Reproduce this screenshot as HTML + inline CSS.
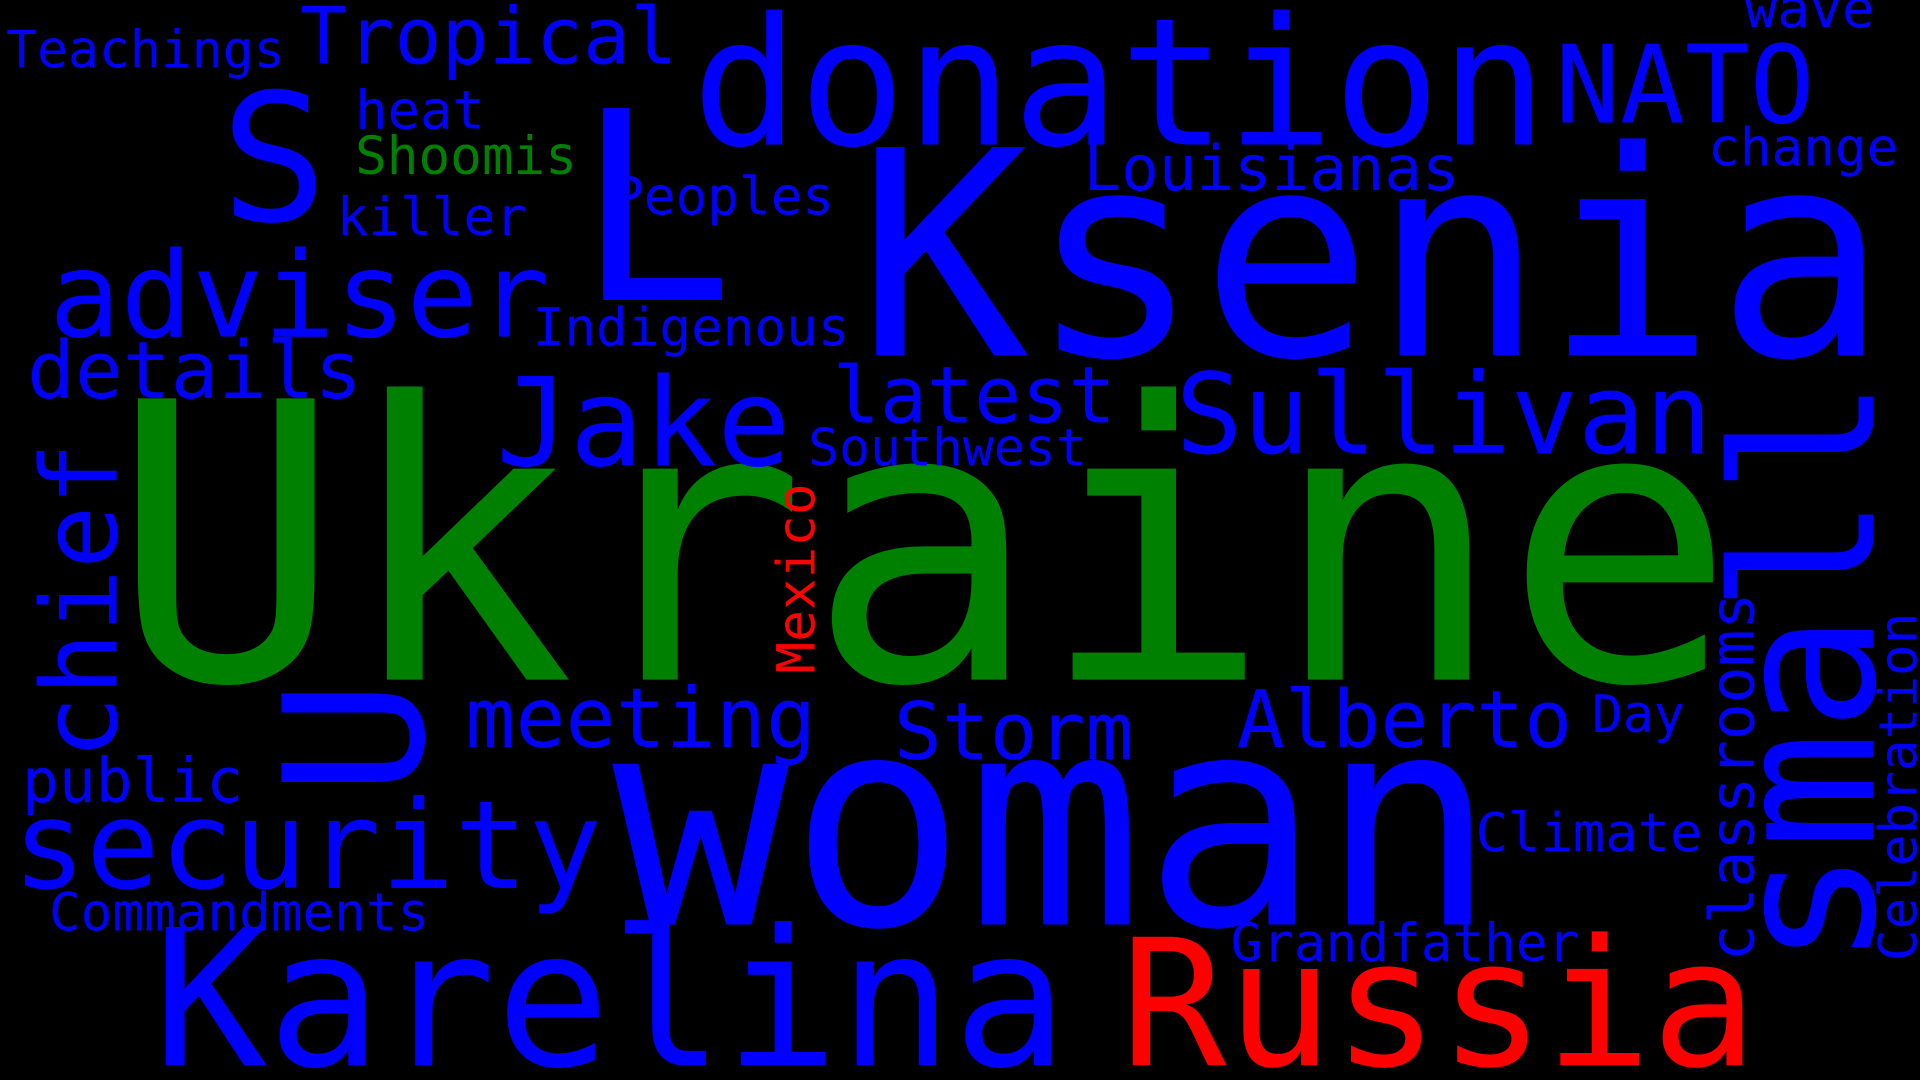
<!DOCTYPE html>
<html><head><meta charset="utf-8"><style>
html,body{margin:0;padding:0;background:#000;overflow:hidden}
svg{display:block}
text{font-family:"DejaVu Sans Mono","Liberation Mono",monospace}
</style></head><body>
<svg id="cloud" width="1920" height="1080" viewBox="0 0 1568 882" xmlns="http://www.w3.org/2000/svg">
<rect width="1568" height="882" fill="#000"/>
</svg>
<script>
const words = ["Ukraine","Ksenia","woman","donation","L","S","NATO","Tropical","Teachings","wave","heat","Shoomis","killer","Peoples","Louisianas","change","adviser","Indigenous","details","Jake","latest","Sullivan","Southwest","small","chief","Mexico","classrooms","Celebration","U","meeting","Storm","Alberto","Day","public","security","Climate","Commandments","Grandfather","Karelina","Russia"];
const sizes = [315,233,240,145,215,145,88,64,42,44,44,43,43,43,51,43,97,43,65,100,64,91,42,160,86,43,50,43,158,68,65,65,42,50,100,44,43,43,155,144];
const colors = ["green","blue","blue","blue","blue","blue","blue","blue","blue","blue","blue","green","blue","blue","blue","blue","blue","blue","blue","blue","blue","blue","blue","blue","blue","red","blue","blue","blue","blue","blue","blue","blue","blue","blue","blue","blue","blue","blue","red"];
const xs = [90,700,500,565,470,180,1270,245,5,1425,290,290,275,500,885,1395,40,435,22,405,680,960,660,1530,95,665,1432,1565,345,380,730,1010,1300,18,10,1205,40,1005,125,915];
const ys = [555,290,755,118,245,180,100,52,55,22,105,142,192,175,155,135,275,282,325,380,345,370,380,790,620,550,785,785,650,610,620,610,598,655,725,695,760,785,870,870];
const rot = [0,0,0,0,0,0,0,0,0,0,0,0,0,0,0,0,0,0,0,0,0,0,0,1,1,1,1,1,1,0,0,0,0,0,0,0,0,0,0,0];
const cmap = {green:"#008000",blue:"#0000ff",red:"#ff0000"};
const svg = document.getElementById('cloud');
words.forEach((w,i)=>{
  const t = document.createElementNS('http://www.w3.org/2000/svg','text');
  
  
  t.setAttribute('font-size', sizes[i]);
  t.setAttribute('fill', cmap[colors[i]]);
  if (rot[i]) {
    t.setAttribute('transform', 'translate(' + xs[i] + ',' + ys[i] + ') rotate(-90)');
    t.setAttribute('x', 0); t.setAttribute('y', 0);
  } else {
    t.setAttribute('x', xs[i]); t.setAttribute('y', ys[i]);
  }
  t.textContent = w;
  svg.appendChild(t);
});
</script>
</body></html>
